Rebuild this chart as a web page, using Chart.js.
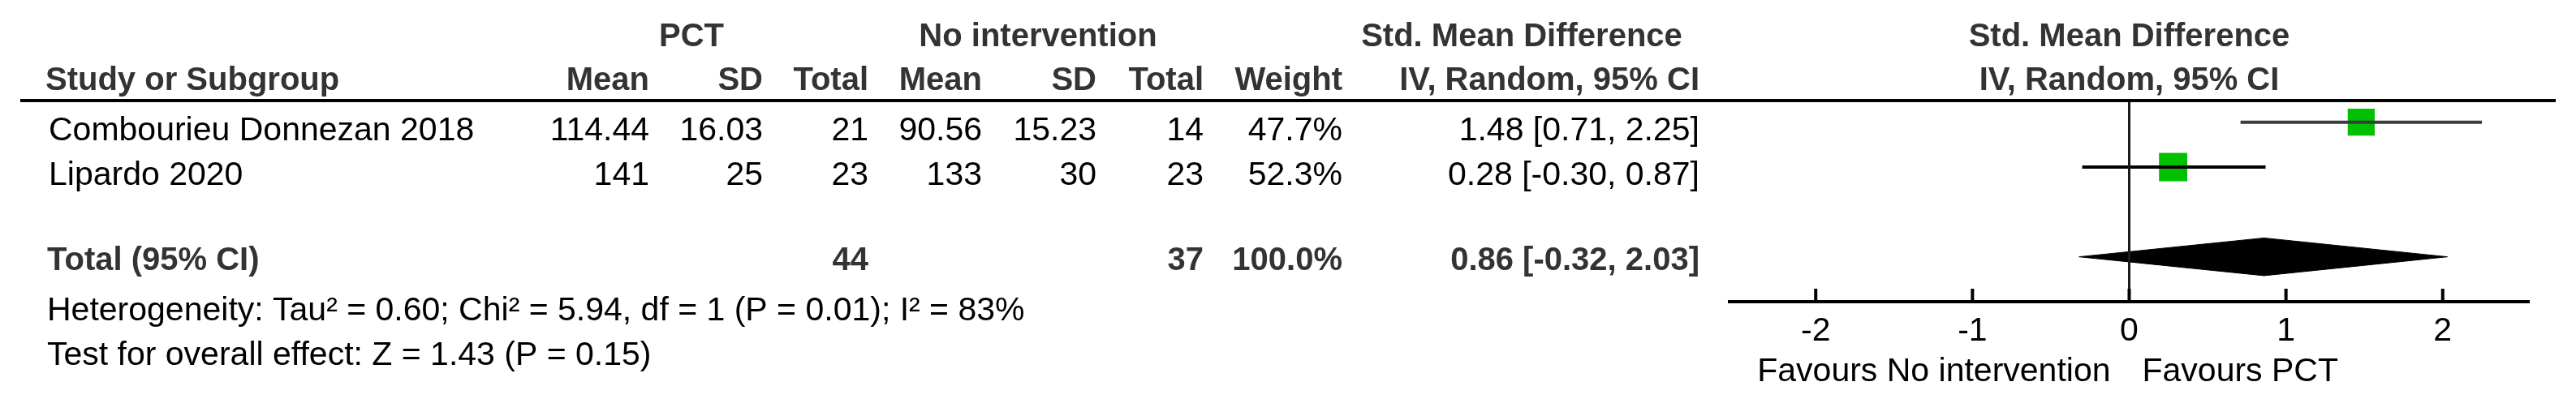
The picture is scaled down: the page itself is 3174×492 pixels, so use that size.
<!DOCTYPE html>
<html>
<head>
<meta charset="utf-8">
<title>Forest plot</title>
<script src="https://cdn.jsdelivr.net/npm/chart.js@4.4.0/dist/chart.umd.min.js"></script>
<style>
  body { margin: 0; background: #fff; }
  #wrap { width: 3174px; height: 492px; position: relative; }
</style>
</head>
<body>
<div id="wrap"><canvas id="forest"></canvas></div>
<script>
// study data
const studies = ['Combourieu Donnezan 2018', 'Lipardo 2020'];
const pctMean = [114.44, 141];
const pctSD = [16.03, 25];
const pctTotal = [21, 23];
const noMean = [90.56, 133];
const noSD = [15.23, 30];
const noTotal = [14, 23];
const weights = [47.7, 52.3];
const smd = [1.48, 0.28];
const ciLow = [0.71, -0.30];
const ciHigh = [2.25, 0.87];

// pooled result
const pooled = [0.86, -0.32, 2.03]; // estimate, low, high
const totals = [44, 37, 100.0];     // PCT n, no intervention n, weight
const heterogeneity = 'Heterogeneity: Tau² = 0.60; Chi² = 5.94, df = 1 (P = 0.01); I² = 83%';
const overallEffect = 'Test for overall effect: Z = 1.43 (P = 0.15)';

// axis
const xTicks = [-2, -1, 0, 1, 2];
const xMin = -2.55;
const xMax = 2.55;
const favourLeft = 'Favours No intervention';
const favourRight = 'Favours PCT';

// layout (rows on the y scale, columns in px)
const studyRows = [1, 2];
const totalRow = 4;
const FONT = '"Liberation Sans", Arial, sans-serif';
const REG = '41px ' + FONT;
const BOLD = 'bold 40px ' + FONT;

function fmtCI(e, lo, hi) {
  return `${e.toFixed(2)} [${lo.toFixed(2)}, ${hi.toFixed(2)}]`;
}

function txt(ctx, s, x, y, align, font, color) {
  ctx.font = font;
  ctx.fillStyle = color;
  ctx.textAlign = align;
  ctx.textBaseline = 'alphabetic';
  ctx.fillText(s, x, y);
}

// draws the table part, header rule, upward ticks and favours labels
const tablePlugin = {
  id: 'table',
  afterDraw(chart) {
    const ctx = chart.ctx;
    const xs = chart.scales.x;
    const area = chart.chartArea;
    const zero = xs.getPixelForValue(0);
    ctx.save();

    // header rows
    const h1 = 57, h2 = 111;
    const hc = '#333';
    txt(ctx, 'PCT', 852, h1, 'center', BOLD, hc);
    txt(ctx, 'No intervention', 1279, h1, 'center', BOLD, hc);
    txt(ctx, 'Std. Mean Difference', 1875, h1, 'center', BOLD, hc);
    txt(ctx, 'Std. Mean Difference', zero, h1, 'center', BOLD, hc);
    txt(ctx, 'Study or Subgroup', 56, h2, 'left', BOLD, hc);
    txt(ctx, 'Mean', 800, h2, 'right', BOLD, hc);
    txt(ctx, 'SD', 940, h2, 'right', BOLD, hc);
    txt(ctx, 'Total', 1070, h2, 'right', BOLD, hc);
    txt(ctx, 'Mean', 1210, h2, 'right', BOLD, hc);
    txt(ctx, 'SD', 1351, h2, 'right', BOLD, hc);
    txt(ctx, 'Total', 1483, h2, 'right', BOLD, hc);
    txt(ctx, 'Weight', 1654, h2, 'right', BOLD, hc);
    txt(ctx, 'IV, Random, 95% CI', 2094, h2, 'right', BOLD, hc);
    txt(ctx, 'IV, Random, 95% CI', zero, h2, 'center', BOLD, hc);

    // header rule
    ctx.strokeStyle = '#000';
    ctx.lineWidth = 4;
    ctx.beginPath();
    ctx.moveTo(25, 124);
    ctx.lineTo(3149, 124);
    ctx.stroke();

    // study rows
    studies.forEach((name, i) => {
      const y = chart.scales.y.getPixelForValue(studyRows[i]) + 22;
      txt(ctx, name, 60, y, 'left', REG, '#000');
      txt(ctx, String(pctMean[i]), 800, y, 'right', REG, '#000');
      txt(ctx, String(pctSD[i]), 940, y, 'right', REG, '#000');
      txt(ctx, String(pctTotal[i]), 1070, y, 'right', REG, '#000');
      txt(ctx, String(noMean[i]), 1210, y, 'right', REG, '#000');
      txt(ctx, String(noSD[i]), 1351, y, 'right', REG, '#000');
      txt(ctx, String(noTotal[i]), 1483, y, 'right', REG, '#000');
      txt(ctx, weights[i].toFixed(1) + '%', 1654, y, 'right', REG, '#000');
      txt(ctx, fmtCI(smd[i], ciLow[i], ciHigh[i]), 2094, y, 'right', REG, '#000');
    });

    // total row
    const ty = chart.scales.y.getPixelForValue(totalRow) + 16;
    txt(ctx, 'Total (95% CI)', 58, ty, 'left', BOLD, hc);
    txt(ctx, String(totals[0]), 1070, ty, 'right', BOLD, hc);
    txt(ctx, String(totals[1]), 1483, ty, 'right', BOLD, hc);
    txt(ctx, totals[2].toFixed(1) + '%', 1654, ty, 'right', BOLD, hc);
    txt(ctx, fmtCI(pooled[0], pooled[1], pooled[2]), 2094, ty, 'right', BOLD, hc);

    txt(ctx, heterogeneity, 58, 395, 'left', REG, '#000');
    txt(ctx, overallEffect, 58, 450, 'left', REG, '#000');

    // tick marks pointing up from the axis
    ctx.strokeStyle = '#000';
    ctx.lineWidth = 4;
    xTicks.forEach(v => {
      const px = xs.getPixelForValue(v);
      ctx.beginPath();
      ctx.moveTo(px, area.bottom - 16);
      ctx.lineTo(px, area.bottom);
      ctx.stroke();
    });

    txt(ctx, favourLeft, zero - 23, 470, 'right', REG, '#000');
    txt(ctx, favourRight, zero + 16, 470, 'left', REG, '#000');
    ctx.restore();
  }
};

const datasets = [];

// line of no effect
datasets.push({
  type: 'line',
  data: [{x: 0, y: 0.5}, {x: 0, y: 5}],
  borderColor: '#1a1a1a',
  borderWidth: 3,
  pointRadius: 0
});

// confidence intervals
studies.forEach((s, i) => {
  datasets.push({
    type: 'line',
    data: [{x: ciLow[i], y: studyRows[i]}, {x: ciHigh[i], y: studyRows[i]}],
    borderColor: i === 0 ? '#3c3c3c' : '#000',
    borderWidth: 4,
    pointRadius: 0
  });
});

// squares, side grows with weight
datasets.push({
  type: 'scatter',
  data: smd.map((v, i) => ({x: v, y: studyRows[i]})),
  pointStyle: 'rect',
  pointRadius: weights.map(w => 34 * Math.sqrt(w / 50) / Math.SQRT2),
  backgroundColor: '#00c000',
  borderWidth: 0
});

// pooled diamond
const dh = 0.42;
datasets.push({
  type: 'line',
  data: [
    {x: pooled[1], y: totalRow},
    {x: pooled[0], y: totalRow - dh},
    {x: pooled[2], y: totalRow},
    {x: pooled[0], y: totalRow + dh},
    {x: pooled[1], y: totalRow}
  ],
  borderColor: '#000',
  borderWidth: 1,
  backgroundColor: '#000',
  fill: 'shape',
  tension: 0,
  pointRadius: 0
});

new Chart(document.getElementById('forest'), {
  type: 'line',
  data: { datasets: datasets },
  options: {
    responsive: true,
    maintainAspectRatio: false,
    animation: false,
    layout: { padding: { left: 2131, right: 58, top: 123, bottom: 0 } },
    plugins: { legend: { display: false }, tooltip: { enabled: false } },
    scales: {
      x: {
        type: 'linear',
        min: xMin,
        max: xMax,
        afterBuildTicks: axis => { axis.ticks = xTicks.map(v => ({value: v})); },
        afterFit: axis => { axis.height = 120; },
        grid: { display: false, drawTicks: false },
        border: { display: true, color: '#000', width: 4 },
        ticks: { color: '#000', font: { family: FONT, size: 41 }, padding: 12 }
      },
      y: {
        type: 'linear',
        reverse: true,
        min: 0.5,
        max: 5,
        display: false
      }
    }
  },
  plugins: [tablePlugin]
});
</script>
</body>
</html>
